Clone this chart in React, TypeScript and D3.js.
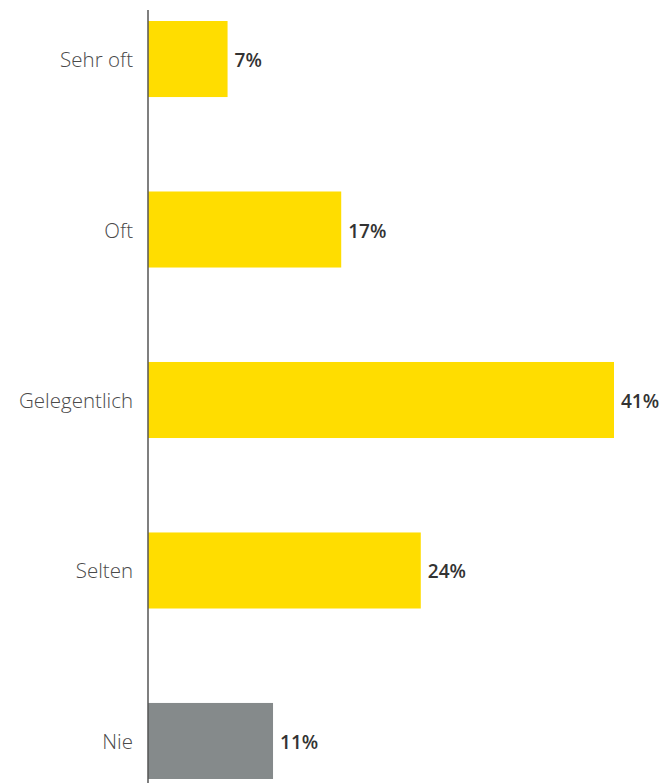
import React from "react";
import * as d3 from "d3";

const categories = ["Sehr oft", "Oft", "Gelegentlich", "Selten", "Nie"];
const values = [7, 17, 41, 24, 11];
const colors = ["#FFDD00", "#FFDD00", "#FFDD00", "#FFDD00", "#858A8B"];

const W = 661;
const H = 783;

export default function App() {
  const x = d3.scaleLinear().domain([0, 41]).range([148, 614]);
  const y = d3
    .scaleBand<string>()
    .domain(categories)
    .range([21, 779])
    .paddingInner(0.554)
    .paddingOuter(0);

  return (
    <svg
      width={W}
      height={H}
      style={{ position: "absolute", left: 0, top: 0, background: "#fff" }}
    >
      {categories.map((c, i) => {
        const y0 = y(c)!;
        const bw = y.bandwidth();
        return (
          <g key={c}>
            <rect
              x={x(0)}
              y={y0}
              width={x(values[i]) - x(0)}
              height={bw}
              fill={colors[i]}
            />
            <text
              x={133}
              y={y0 + bw / 2 + 8}
              textAnchor="end"
              fontFamily="'Open Sans', sans-serif"
              fontWeight={300}
              fontSize={20.5}
              fill="#4a4a4a"
            >
              {c}
            </text>
            <text
              x={x(values[i]) + 7}
              y={y0 + bw / 2 + 8}
              textAnchor="start"
              fontFamily="'Open Sans', sans-serif"
              fontWeight={600}
              fontSize={19}
              fill="#333"
            >
              {values[i] + "%"}
            </text>
          </g>
        );
      })}
      <line x1={148} x2={148} y1={10} y2={H} stroke="#555" strokeWidth={1.5} />
    </svg>
  );
}
